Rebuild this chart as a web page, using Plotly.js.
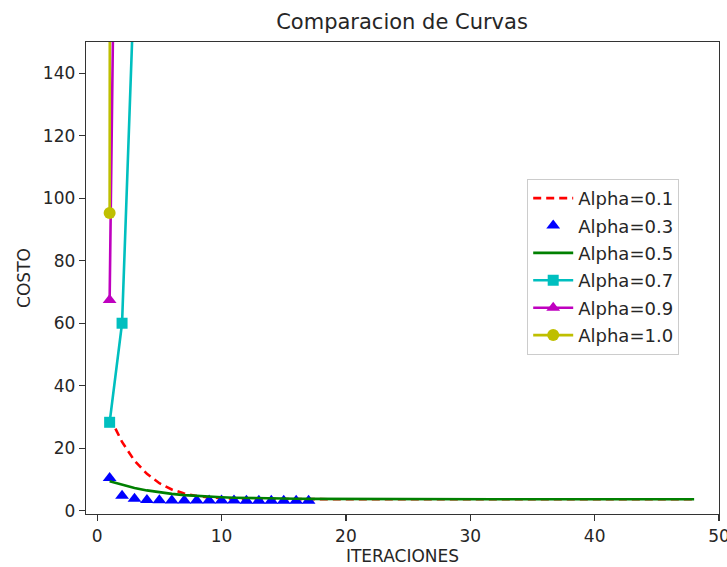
<!DOCTYPE html>
<html>
<head>
<meta charset="utf-8">
<script src="https://cdn.plot.ly/plotly-3.0.1.min.js"></script>
<style>html,body{margin:0;padding:0;background:#fff;}#chart{width:727px;height:567px;}</style>
</head>
<body>
<div id="chart"></div>
<script>
// Data
const xRed = [1,2,3,4,5,6,7,8,9,10,11,12,13,14,15,16,17,18,19,20,22,24,26,28,30,32,34,36,38,40,42,44,46,48];
const yRed = [30,22,16,11.8,8.8,6.8,5.5,4.7,4.25,4.0,3.85,3.78,3.74,3.72,3.7,3.69,3.68,3.68,3.67,3.67,3.66,3.66,3.66,3.65,3.65,3.65,3.65,3.65,3.65,3.65,3.65,3.65,3.65,3.65];

const xBlue = [1,2,3,4,5,6,7,8,9,10,11,12,13,14,15,16,17];
const yBlue = [10.5,4.8,3.8,3.45,3.35,3.3,3.3,3.28,3.25,3.25,3.25,3.22,3.22,3.22,3.2,3.2,3.2];

const xGreen = [1,2,3,4,5,6,7,8,9,10,11,12,13,14,15,16,17,18,19,20,22,24,26,28,30,32,34,36,38,40,42,44,46,48];
const yGreen = [9.4,8.3,7.3,6.5,5.9,5.4,5.0,4.7,4.5,4.3,4.15,4.05,3.98,3.92,3.87,3.83,3.8,3.78,3.76,3.75,3.73,3.72,3.71,3.7,3.7,3.69,3.69,3.68,3.68,3.68,3.67,3.67,3.67,3.67];

const xCyan = [1,2,3,4];
const yCyan = [28.3,60,172,520];

const xMag = [1,2,3];
const yMag = [67.4,385,1900];

const xYel = [1,2,3];
const yYel = [95.3,1150,9000];

const labels = ['Alpha=0.1','Alpha=0.3','Alpha=0.5','Alpha=0.7','Alpha=0.9','Alpha=1.0'];
const xTicks = [0,10,20,30,40,50];
const yTicks = [0,20,40,60,80,100,120,140];

const LW = 2.6;
const traces = [
  {x:xRed, y:yRed, name:labels[0], mode:'lines', line:{color:'#ff0000', width:LW, dash:'8px,5px'}, legendgroup:'a'},
  {x:xBlue, y:yBlue, name:labels[1], mode:'markers', marker:{color:'#0000ff', symbol:'triangle-up', size:12}, legendgroup:'b'},
  {x:xGreen, y:yGreen, name:labels[2], mode:'lines', line:{color:'#008000', width:LW}, legendgroup:'c'},
  {x:xCyan, y:yCyan, name:labels[3], mode:'lines+markers', line:{color:'#00bfbf', width:LW}, marker:{color:'#00bfbf', symbol:'square', size:11}, legendgroup:'d'},
  {x:xMag, y:yMag, name:labels[4], mode:'lines+markers', line:{color:'#bf00bf', width:LW}, marker:{color:'#bf00bf', symbol:'triangle-up', size:12}, legendgroup:'e'},
  {x:xYel, y:yYel, name:labels[5], mode:'lines+markers', line:{color:'#bfbf00', width:LW}, marker:{color:'#bfbf00', symbol:'circle', size:12}, legendgroup:'f'}
];

const TXT = '#262626';
const layout = {
  width:727, height:567,
  margin:{l:86, r:8, t:42, b:53},
  paper_bgcolor:'#fff', plot_bgcolor:'#fff',
  font:{family:'DejaVu Sans', size:17, color:TXT},
  showlegend:true,
  title:{text:'Comparacion de Curvas', font:{family:'DejaVu Sans', size:21, color:TXT}, x:0.553, xanchor:'center', y:0.962, yanchor:'middle'},
  xaxis:{
    range:[-0.9,50], tickvals:xTicks, ticktext:xTicks.map(String),
    showgrid:false, zeroline:false, showline:true, mirror:true, linecolor:'#333', linewidth:1.3,
    ticks:'outside', ticklen:6, tickcolor:'#333', tickwidth:1.3,
    ticklabeloverflow:'allow',
    tickfont:{family:'DejaVu Sans', size:17, color:TXT},
    title:{text:'ITERACIONES', font:{family:'DejaVu Sans', size:17, color:TXT}, standoff:4}
  },
  yaxis:{
    range:[-1.05,150], tickvals:yTicks, ticktext:yTicks.map(String),
    showgrid:false, zeroline:false, showline:true, mirror:true, linecolor:'#333', linewidth:1.3,
    ticks:'outside', ticklen:6, tickcolor:'#333', tickwidth:1.3,
    tickfont:{family:'DejaVu Sans', size:17, color:TXT},
    title:{text:'COSTO', font:{family:'DejaVu Sans', size:17, color:TXT}, standoff:8}
  },
  legend:{
    x:0.697, y:0.71, xanchor:'left', yanchor:'top',
    bgcolor:'rgba(255,255,255,0.9)', bordercolor:'#cccccc', borderwidth:1,
    font:{family:'DejaVu Sans', size:18, color:TXT},
    traceorder:'grouped', tracegroupgap:1, itemwidth:40
  }
};

Plotly.newPlot('chart', traces, layout, {displayModeBar:false, staticPlot:true});
</script>
</body>
</html>
